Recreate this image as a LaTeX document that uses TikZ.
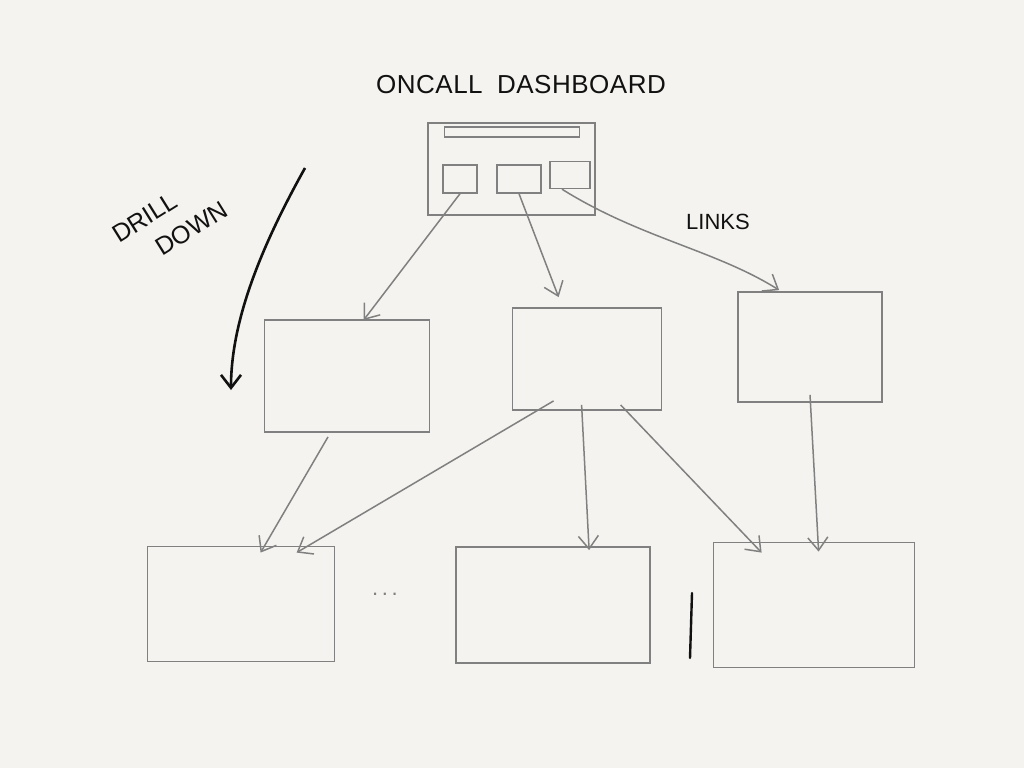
\documentclass[tikz,border=0pt]{standalone}
\usepackage{fontspec}
\setmainfont{Liberation Sans}
\usetikzlibrary{arrows.meta,calc}
\definecolor{paper}{HTML}{F4F3EF}
\definecolor{pencil}{HTML}{808080}
\definecolor{ink}{HTML}{111111}
\tikzset{
  box/.style={draw=pencil, line width=1.8pt, minimum width=#1, inner sep=0pt},
  minibox/.style={draw=pencil, line width=1.4pt, inner sep=0pt},
  link/.style={draw=pencil, line width=1.5pt, -{Straight Barb[length=13pt,width=20pt,line width=1.5pt]}},
  inkarrow/.style={draw=ink, line width=2.6pt, -{Straight Barb[length=13pt,width=20pt,line width=2.6pt]}},
  hand/.style={text=ink, font=\fontsize{22}{26}\selectfont},
}
\begin{document}
\begin{tikzpicture}[x=1pt,y=-1pt]
\fill[paper] (0,0) rectangle (1024,768);
\useasboundingbox (0,0) rectangle (1024,768);
% title
\node[hand, font=\fontsize{26}{28}\selectfont] (title) at (521,85) {O\kern0.5pt N\kern0.5pt C\kern0.5pt A\kern0.5pt L\kern0.5pt L\ \ D\kern0.5pt A\kern0.5pt S\kern0.5pt H\kern0.5pt B\kern0.5pt O\kern0.5pt A\kern0.5pt R\kern0.5pt D};
% dashboard
\node[box=167pt, minimum height=92pt] (dash) at (511.5,169) {};
\node[minibox, minimum width=135pt, minimum height=10pt] (bar) at (512,132) {};
\node[minibox, minimum width=34pt, minimum height=28pt] (b1) at (460,179) {};
\node[minibox, minimum width=44pt, minimum height=28pt] (b2) at (519,179) {};
\node[minibox, minimum width=40pt, minimum height=27pt] (b3) at (570,175) {};
% middle boxes
\node[box=165pt, minimum height=112pt] (ml) at (347,376) {};
\node[box=149pt, minimum height=102pt] (cm) at (587,359) {};
\node[box=144pt, minimum height=110pt] (rm) at (810,347) {};
% bottom boxes
\node[box=187pt, minimum height=115pt] (bl) at (241,604) {};
\node[box=194pt, minimum height=116pt] (bc) at (553,605) {};
\node[box=201pt, minimum height=125pt] (br) at (814,605) {};
% links from dashboard
\draw[link] (b1.south) -- ([xshift=100pt,yshift=-1pt]ml.north west);
\draw[link] (b2.south) -- ([xshift=47pt,yshift=10pt]cm.north west);
\draw[link] ([xshift=-8pt]b3.south) .. controls (640,238) and (715,250) .. ([xshift=42pt,yshift=1pt]rm.north west);
% links to bottom row
\draw[link] ([xshift=-19pt,yshift=-4pt]ml.south) -- ([xshift=114pt,yshift=-7pt]bl.north west);
\draw[link] ([xshift=42pt,yshift=10pt]cm.south west) -- ([xshift=150pt,yshift=-7pt]bl.north west);
\draw[link] ([xshift=70pt,yshift=6pt]cm.south west) -- ([xshift=134pt,yshift=-4pt]bc.north west);
\draw[link] ([xshift=109pt,yshift=6pt]cm.south west) -- ([xshift=49pt,yshift=-11pt]br.north west);
\draw[link] ([yshift=8pt]rm.south) -- ([xshift=106pt,yshift=-10pt]br.north west);
% drill down
\coordinate (ddstart) at (305,168);
\coordinate (ddend) at (231,390);
\draw[inkarrow] (ddstart) .. controls (262,245) and (231,320) .. (ddend);
\node[hand, font=\fontsize{25}{34}\selectfont, rotate=32, align=left, inner sep=0pt] (drill) at (170,222) {DRILL\\\hspace*{1.2em}DOWN};
% links label
\node[hand] (links) at (718,222) {LINKS};
% ellipsis
\node[text=pencil, font=\fontsize{22}{22}\selectfont] (dots) at (385,594) {.\,.\,.};
% vertical ink mark
\coordinate (vtop) at (692,593);
\coordinate (vbot) at (690,658);
\draw[ink, line width=2.4pt, line cap=round] (vtop) -- (vbot);
\end{tikzpicture}
\end{document}
